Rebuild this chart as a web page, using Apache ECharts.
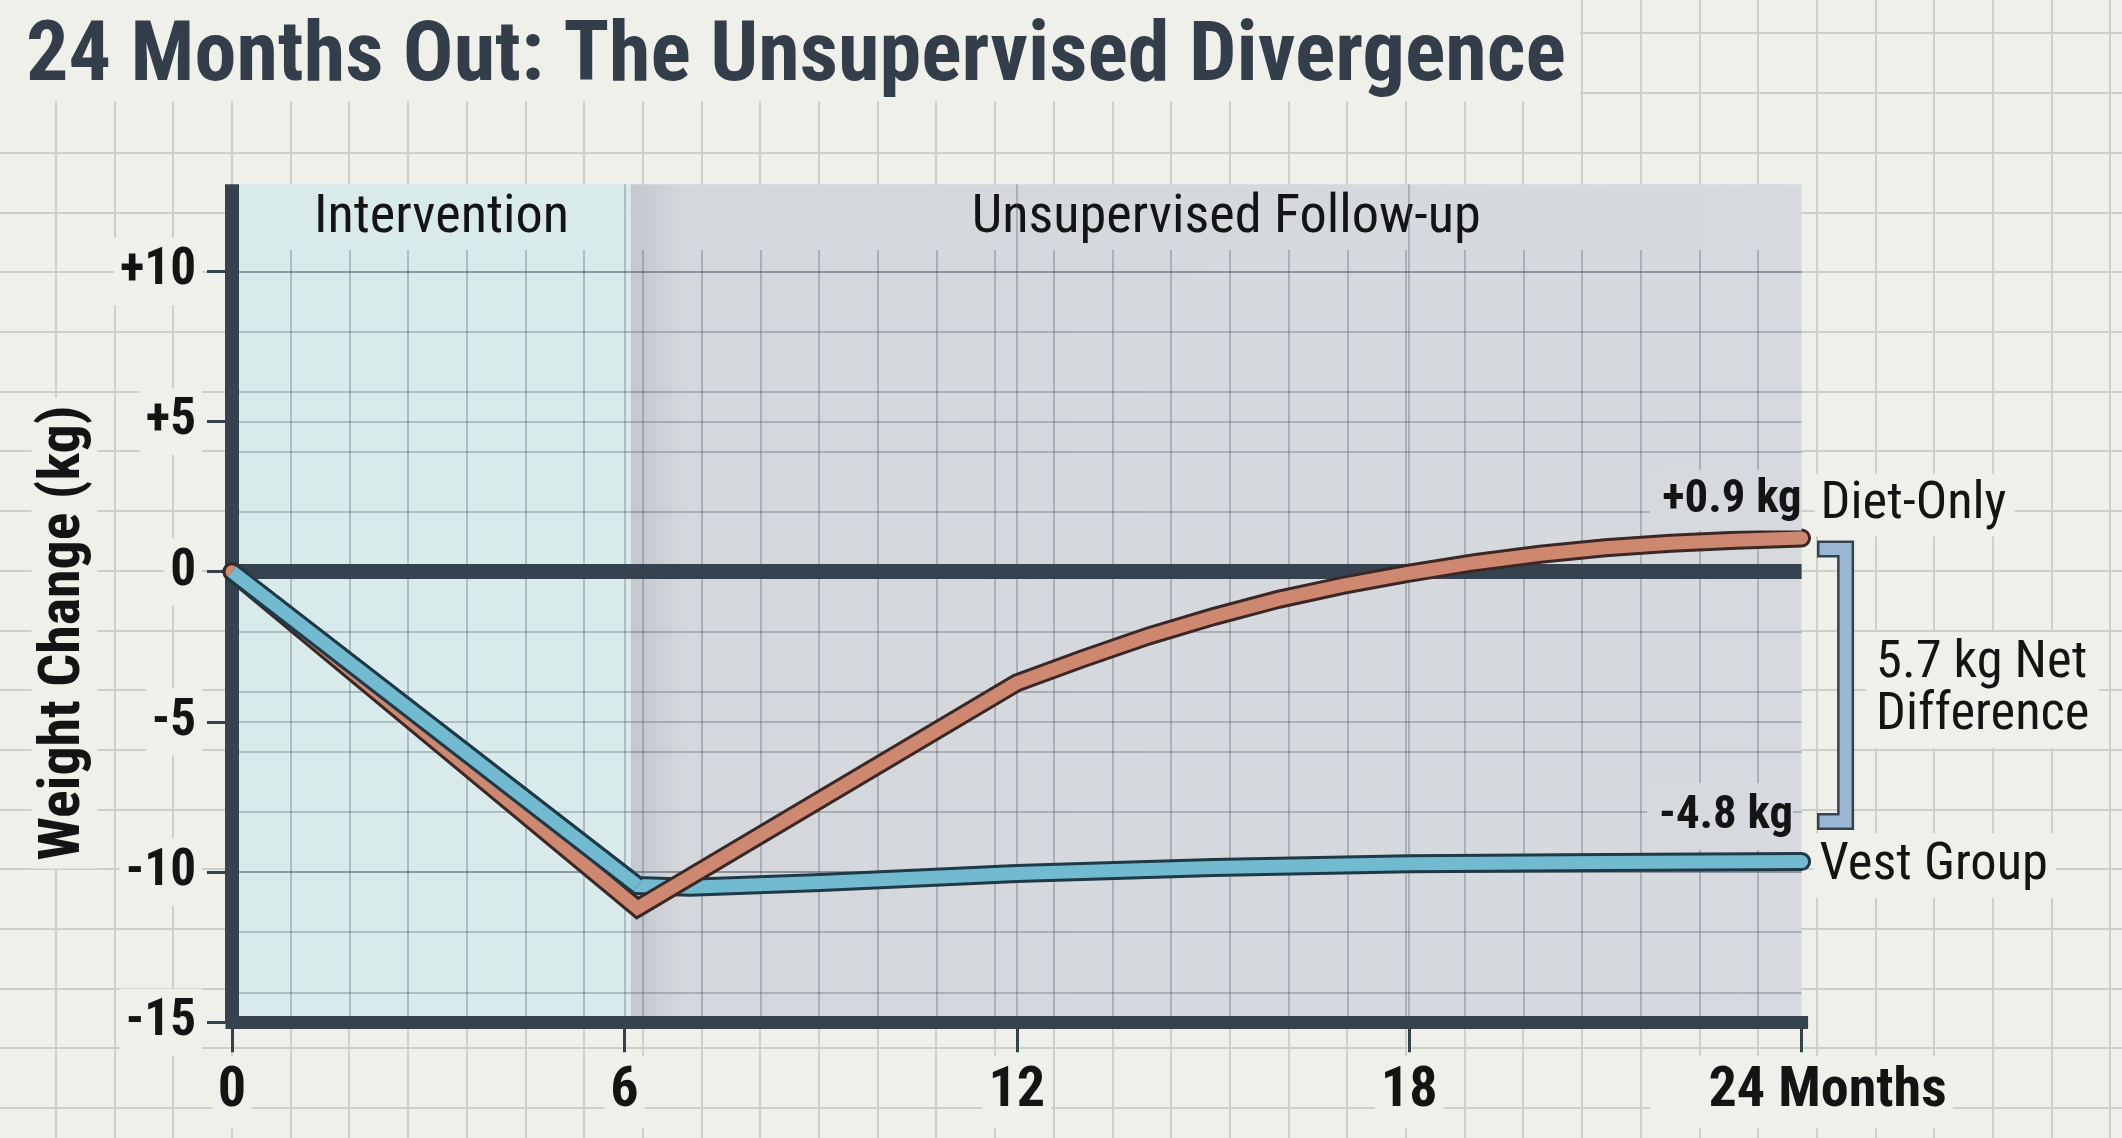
<!DOCTYPE html>
<html>
<head>
<meta charset="utf-8">
<title>24 Months Out: The Unsupervised Divergence</title>
<script src="https://cdn.jsdelivr.net/npm/echarts@6.0.0/dist/echarts.min.js"></script>
<style>
  html, body { margin: 0; padding: 0; background: #f0f0eb; }
  #wrap { position: relative; width: 2122px; height: 1138px; overflow: hidden; }
  #paper, #chart { position: absolute; left: 0; top: 0; width: 2122px; height: 1138px; }
</style>
</head>
<body>
<div id="wrap">
  <canvas id="paper" width="2122" height="1138"></canvas>
  <div id="chart"></div>
</div>
<script>
// ================= DATA =================
const titleText = '24 Months Out: The Unsupervised Divergence';
const yAxisName = 'Weight Change (kg)';
const xTickValues = [0, 6, 12, 18, 24];
const xTickLabels = ['0', '6', '12', '18', '24 Months'];
const yTickValues = [-15, -10, -5, 0, 5, 10];
const yTickLabels = ['-15', '-10', '-5', '0', '+5', '+10'];
const phaseNames = ['Intervention', 'Unsupervised Follow-up'];
const phaseStart = [0, 6.1];
const phaseEnd = [6.1, 24];
const dietMonths = [0, 6.2, 12, 13, 14, 15, 16, 17, 18, 19, 20, 21, 22, 23, 24];
const dietValues = [0, -11.2, -3.7, -2.9, -2.15, -1.5, -0.92, -0.45, -0.05, 0.3, 0.58, 0.8, 0.95, 1.05, 1.12];
const vestMonths = [0, 6.2, 7, 9, 12, 15, 18, 21, 24];
const vestValues = [0, -10.45, -10.5, -10.35, -10.05, -9.85, -9.72, -9.68, -9.65];
const seriesNames = ['Diet-Only', 'Vest Group'];
const endValueLabels = ['+0.9 kg', '-4.8 kg'];
const netDiffLines = ['5.7 kg Net', 'Difference'];

// ================= LAYOUT / STYLE =================
const W = 2122, H = 1138;
const PAGE_BG = '#f0f0eb';
const PAPER_LINE = '#cfcfc9';
const INK = '#37424f';
const TEXT = '#141414';
const TITLE_COLOR = '#343e4b';
const CYAN_FILL = '#d8eaea';
const GRAY_FILL = '#d6d9dd';
const PLOT_LINE = 'rgba(70,82,96,0.30)';
const DIET_FILL = '#cf8870', DIET_EDGE = '#3a2826';
const VEST_FILL = '#72bad0', VEST_EDGE = '#1f3947';
const BRACKET_FILL = '#9ab7d3';

const plotLeft = 232, plotRight = 1801.6, plotTop = 184.2, plotBottom = 1022.3;
const yMin = -15, yMax = 12.9, xMin = 0, xMax = 24;
const pxPerKg = (plotBottom - plotTop) / (yMax - yMin);
const yToPx = v => plotTop + (yMax - v) * pxPerKg;
const paperStepX = 58.7, paperStepY = 59.7;

// ---------- paper background ----------
(function drawPaper() {
  const c = document.getElementById('paper').getContext('2d');
  c.fillStyle = PAGE_BG; c.fillRect(0, 0, W, H);
  c.strokeStyle = PAPER_LINE; c.lineWidth = 2;
  for (let x = plotLeft - paperStepX * 4; x < W; x += paperStepX) {
    const xx = Math.round(x);
    c.beginPath(); c.moveTo(xx, 0); c.lineTo(xx, H); c.stroke();
  }
  for (let y = 391.7 - paperStepY * 7; y < H; y += paperStepY) {
    const yy = Math.round(y);
    c.beginPath(); c.moveTo(0, yy); c.lineTo(W, yy); c.stroke();
  }
})();

// ---------- fonts ----------
const probe = document.createElement('canvas').getContext('2d');
function hasFont(name) {
  const s = 'abcdefghijklmnopqrstuvwxyzABCDEFGHIJKLMNOPQRSTUVWXYZ0123456789';
  probe.font = '60px monospace'; const a = probe.measureText(s).width;
  probe.font = `60px "${name}", monospace`; const b = probe.measureText(s).width;
  probe.font = '60px serif'; const c = probe.measureText(s).width;
  probe.font = `60px "${name}", serif`; const d = probe.measureText(s).width;
  return a !== b && c !== d;
}
const candidates = ['Roboto Condensed', 'DejaVu Sans Condensed', 'DejaVu Sans'];
const avail = candidates.filter(hasFont);
const FAMILY = `"${avail[0] || 'DejaVu Sans'}", "DejaVu Sans Condensed", sans-serif`;
function textW(text, weight, size) { probe.font = `${weight} ${size}px ${FAMILY}`; return probe.measureText(text).width; }
function fit(text, weight, targetW, targetCap) {
  const sW = 100 * targetW / textW(text, weight, 100);
  if (!targetCap) return sW;
  return 0.75 * sW + 0.25 * (targetCap / 0.72);
}
const fsTitle = fit(titleText, 'bold', 1540);
const fsYTick = fit('+10', 'bold', 78, 34);
const fsXTick = fit('24 Months', 'bold', 247, 36);
const fsYName = fit(yAxisName, 'bold', 455);
const fsHeader = fit(phaseNames[0], 'normal', 264, 35);
const fsEndVal = fit(endValueLabels[0], 'bold', 150, 26);
const fsName = fit(seriesNames[1], 'normal', 240, 32);
const fsNet = fit(netDiffLines[1], 'normal', 228, 30);

// ---------- data for library ----------
const dietData = dietMonths.map((m, i) => [m, dietValues[i]]);
const vestData = vestMonths.map((m, i) => [m, vestValues[i]]);
const vestHead = vestData.slice(0, 2);

const grayGradient = new echarts.graphic.LinearGradient(0, 0, 1, 0, [
  { offset: 0, color: '#c3c7ce' },
  { offset: 0.045, color: '#d4d7db' },
  { offset: 1, color: GRAY_FILL }
]);

function lineSeries(name, data, color, width, z, cap) {
  return {
    type: 'line', name, data, xAxisIndex: 0, yAxisIndex: 0,
    symbol: 'none', showSymbol: false, silent: true, z,
    lineStyle: { color, width, cap: cap || 'round', join: 'miter' },
    emphasis: { disabled: true }, animation: false
  };
}

const chart = echarts.init(document.getElementById('chart'), null, { renderer: 'canvas' });

const titleTopPad = Math.max(0, 28 - 0.13 * fsTitle);
const option = {
  backgroundColor: 'transparent',
  animation: false,
  title: {
    text: titleText, left: 0, top: 0,
    padding: [titleTopPad, 14, Math.max(0, 95 - titleTopPad - fsTitle), 26],
    backgroundColor: PAGE_BG,
    textStyle: { fontFamily: FAMILY, fontWeight: 'bold', fontSize: fsTitle, lineHeight: fsTitle, color: TITLE_COLOR }
  },
  grid: [
    { left: plotLeft, right: W - plotRight, top: plotTop, bottom: H - plotBottom },
    { left: plotLeft, right: W - plotRight, top: yToPx(10), bottom: H - yToPx(-14) },
    { left: plotLeft, right: W - (plotLeft + 26 * paperStepX), top: 250, bottom: H - plotBottom }
  ],
  xAxis: [
    {
      gridIndex: 0, type: 'value', min: xMin, max: xMax, interval: 6,
      axisLine: { show: true, onZero: false, lineStyle: { color: INK, width: 13, cap: 'square' } },
      axisTick: { show: true, length: 30, lineStyle: { color: INK, width: 3 } },
      axisLabel: {
        margin: 34,
        formatter: v => {
          const i = xTickValues.indexOf(v);
          if (i < 0) return '';
          return i === xTickLabels.length - 1 ? '{last|' + xTickLabels[i] + '}' : xTickLabels[i];
        },
        fontFamily: FAMILY, fontWeight: 'bold', fontSize: fsXTick, lineHeight: fsXTick, color: TEXT,
        backgroundColor: PAGE_BG, padding: [8, 6, 8, 6],
        rich: { last: { fontFamily: FAMILY, fontWeight: 'bold', fontSize: fsXTick, lineHeight: fsXTick, color: TEXT, padding: [0, 0, 0, 52] } }
      },
      splitLine: { show: true, lineStyle: { color: ['transparent', PLOT_LINE, PLOT_LINE, PLOT_LINE, 'transparent'], width: 2 } }
    },
    { gridIndex: 1, type: 'value', min: 0, max: 1, show: false },
    {
      gridIndex: 2, type: 'value', min: 0, max: 26, interval: 1,
      axisLine: { show: false }, axisTick: { show: false }, axisLabel: { show: false },
      splitLine: { show: true, lineStyle: { color: PLOT_LINE, width: 2 } }
    }
  ],
  yAxis: [
    {
      gridIndex: 0, type: 'value', min: yMin, max: yMax, interval: 5,
      axisLine: { show: true, onZero: false, lineStyle: { color: INK, width: 14, cap: 'butt' } },
      axisTick: { show: true, customValues: yTickValues, length: 25, lineStyle: { color: INK, width: 3 } },
      axisLabel: {
        customValues: yTickValues, margin: 30,
        formatter: v => { const i = yTickValues.indexOf(v); return i < 0 ? '' : yTickLabels[i]; },
        fontFamily: FAMILY, fontWeight: 'bold', fontSize: fsYTick, lineHeight: fsYTick, color: TEXT,
        backgroundColor: PAGE_BG, padding: [8, 6, 8, 6]
      },
      splitLine: { show: true, lineStyle: { color: ['transparent', PLOT_LINE, PLOT_LINE, 'transparent', PLOT_LINE, PLOT_LINE, 'transparent'], width: 2 } }
    },
    {
      gridIndex: 1, type: 'value', min: -14, max: 10, interval: 2,
      axisLine: { show: false }, axisTick: { show: false }, axisLabel: { show: false },
      splitLine: { show: true, lineStyle: { color: PLOT_LINE, width: 2 } }
    },
    { gridIndex: 2, type: 'value', min: 0, max: 1, show: false }
  ],
  series: [
    Object.assign(lineSeries(seriesNames[1], vestData, VEST_EDGE, 19, 2), {
      markArea: {
        silent: true, z: -5,
        data: phaseNames.map((nm, i) => [
          {
            name: nm, xAxis: phaseStart[i], yAxis: yMax,
            itemStyle: { color: i === 0 ? CYAN_FILL : grayGradient },
            label: {
              show: true, position: 'insideTop', distance: 218 - plotTop - 0.485 * fsHeader, offset: [10, 0],
              fontFamily: FAMILY, fontWeight: 'normal', fontSize: fsHeader, lineHeight: fsHeader, color: TEXT
            }
          },
          { xAxis: phaseEnd[i], yAxis: yMin }
        ])
      },
      markLine: {
        silent: true, z: 1, symbol: ['none', 'none'],
        label: { show: false },
        lineStyle: { color: INK, width: 15, type: 'solid', cap: 'butt' },
        data: [{ yAxis: 0 }]
      }
    }),
    lineSeries(seriesNames[1], vestData, VEST_FILL, 13, 3),
    lineSeries(seriesNames[0], dietData, DIET_EDGE, 19, 4),
    lineSeries(seriesNames[0], dietData, DIET_FILL, 13, 5),
    lineSeries(seriesNames[1], vestHead, VEST_EDGE, 19, 6, 'butt'),
    lineSeries(seriesNames[1], vestHead, VEST_FILL, 13, 7, 'butt')
  ]
};
chart.setOption(option);

// ---------- annotations anchored to the line ends ----------
const pDiet = chart.convertToPixel({ xAxisIndex: 0, yAxisIndex: 0 }, dietData[dietData.length - 1]);
const pVest = chart.convertToPixel({ xAxisIndex: 0, yAxisIndex: 0 }, vestData[vestData.length - 1]);
const bx = pDiet[0] + 44;            // bracket bar centre x
const bTop = pDiet[1] + 11, bBot = pVest[1] - 40;
const armX = pDiet[0] + 15.4;
function txt(x, y, text, size, weight, align, bg, padding, extra) {
  return Object.assign({
    type: 'text', x, y, z: 100, silent: true,
    style: {
      text, fontFamily: FAMILY, fontSize: size, fontWeight: weight, lineHeight: size,
      fill: TEXT, align, verticalAlign: 'middle', backgroundColor: bg, padding
    }
  }, extra || {});
}
chart.setOption({
  graphic: [
    txt(64.4, 633, yAxisName, fsYName, 'bold', 'center', PAGE_BG, [4, 8, 4, 8], { rotation: Math.PI / 2 }),
    txt(pDiet[0], pDiet[1] - 38, endValueLabels[0], fsEndVal, 'bold', 'right', GRAY_FILL, [8, 0, 6, 12]),
    txt(pDiet[0] + 13, pDiet[1] - 33, seriesNames[0], fsName, 'normal', 'left', PAGE_BG, [6, 8, 4, 6]),
    txt(pVest[0] - 8.6, pVest[1] - 45, endValueLabels[1], fsEndVal, 'bold', 'right', GRAY_FILL, [12, 0, 8, 12]),
    txt(pVest[0] + 12, pVest[1] + 4, seriesNames[1], fsName, 'normal', 'left', PAGE_BG, [6, 8, 6, 6]),
    {
      type: 'text', x: 1866, y: (bTop + bBot) / 2 + 5, z: 100, silent: true,
      style: {
        text: netDiffLines.join('\n'), fontFamily: FAMILY, fontSize: fsNet, lineHeight: 52,
        fill: TEXT, align: 'left', verticalAlign: 'middle', backgroundColor: PAGE_BG, padding: [6, 10, 6, 10]
      }
    },
    {
      type: 'polyline', z: 99, silent: true,
      shape: { points: [[armX, bTop], [bx, bTop], [bx, bBot], [armX, bBot]] },
      style: { stroke: INK, lineWidth: 17, lineJoin: 'miter', lineCap: 'butt', fill: null }
    },
    {
      type: 'polyline', z: 99.5, silent: true,
      shape: { points: [[armX + 2.5, bTop], [bx, bTop], [bx, bBot], [armX + 2.5, bBot]] },
      style: { stroke: BRACKET_FILL, lineWidth: 12, lineJoin: 'miter', lineCap: 'butt', fill: null }
    }
  ]
});
</script>
</body>
</html>
